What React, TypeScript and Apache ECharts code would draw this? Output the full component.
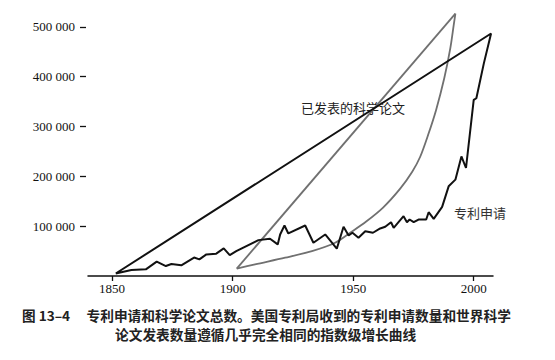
import React, { useEffect, useRef } from "react";
import * as echarts from "echarts";

// X axis tick labels (years) and Y axis tick values
const xTicks = [1850, 1900, 1950, 2000];
const yTicks = [100000, 200000, 300000, 400000, 500000];

// Patent applications (US Patent Office)
const patentYears = [
  1851.5, 1858, 1864, 1868.5, 1872.3, 1874.6, 1878.7, 1884, 1886.2, 1889.1, 1893.2, 1896.3, 1898.8, 1901.5,
  1910.7, 1915.5, 1918.7, 1919.7, 1921.5, 1923.1, 1930.1, 1933.5, 1938.4, 1943.2, 1946, 1948.1, 1949.7,
  1952.2, 1955, 1958.2, 1961.2, 1963.3, 1965.7, 1966.8, 1970.9, 1972.3, 1973.4, 1975.1, 1977.1, 1980.3,
  1981.3, 1983.4, 1986.9, 1989.6, 1992.4, 1994.9, 1996.8, 2000, 2001.1, 2004.2, 2007.2,
];
const patentValues = [
  5000, 12000, 13400, 28800, 20000, 24000, 21400, 37000, 33400, 43400, 44800, 55400, 42000, 50000,
  72000, 74800, 63400, 83400, 101400, 85400, 101400, 66800, 83400, 54800, 98800, 81400, 86800,
  76800, 90000, 86800, 95400, 98800, 108000, 96800, 120000, 108000, 113400, 108000, 113400, 113400,
  128000, 114800, 138800, 180000, 193400, 240000, 216800, 353400, 356800, 426800, 486800,
];

// Published scientific papers (world)
const paperYears = [
  1901.7, 1909.3, 1921.8, 1932.9, 1942.5, 1948.9, 1955.4, 1962.4, 1969.5, 1974.5, 1977.8, 1981.1,
  1984.4, 1987.8, 1990.3, 1991.7, 1992.4,
];
const paperValues = [
  14800, 23400, 36800, 50000, 66800, 87400, 109400, 137400, 175400, 209400, 239400, 283400,
  333400, 397400, 457400, 503400, 526800,
];

const paperLabel = "已发表的科学论文";
const patentLabel = "专利申请";
const captionNo = "图 13–4";
const captionLine1 = "专利申请和科学论文总数。美国专利局收到的专利申请数量和世界科学";
const captionLine2 = "论文发表数量遵循几乎完全相同的指数级增长曲线";

export default function App() {
  const ref = useRef<HTMLDivElement>(null);

  useEffect(() => {
    document.body.style.margin = "0";
    if (!ref.current) return;
    const chart = echarts.init(ref.current, undefined, { renderer: "svg" });

    const patentData: number[][] = patentYears.map((y, i) => [y, patentValues[i]]);
    patentData.push([patentYears[0], patentValues[0]]);
    const paperCurve: number[][] = paperYears.map((y, i) => [y, paperValues[i]]);
    const last = paperYears.length - 1;
    const paperClose: number[][] = [
      [paperYears[last], paperValues[last]],
      [paperYears[0], paperValues[0]],
    ];

    const serif = "Liberation Serif";
    const cjk = "Noto Sans CJK SC";

    chart.setOption({
      animation: false,
      backgroundColor: "#ffffff",
      textStyle: { fontFamily: serif },
      grid: { left: 88, right: 62, top: 2, bottom: 84 },
      xAxis: {
        type: "value",
        min: 1840,
        max: 2008,
        axisLine: { show: true, lineStyle: { color: "#111", width: 1.5 } },
        axisTick: { show: true, length: 5, customValues: xTicks, lineStyle: { color: "#111", width: 1.3 } },
        axisLabel: {
          customValues: xTicks,
          margin: 6,
          color: "#111",
          fontFamily: serif,
          fontSize: 13,
          formatter: (v: number) => String(v),
        },
        splitLine: { show: false },
      },
      yAxis: {
        type: "value",
        min: 0,
        max: 550000,
        offset: 2,
        axisLine: { show: false },
        axisTick: { show: true, length: 6, customValues: yTicks, lineStyle: { color: "#111", width: 1.3 } },
        axisLabel: {
          customValues: yTicks,
          margin: 11,
          color: "#111",
          fontFamily: serif,
          fontSize: 13,
          formatter: (v: number) => `${Math.round(v / 1000)} 000`,
        },
        splitLine: { show: false },
      },
      series: [
        {
          type: "line",
          data: paperCurve,
          smooth: 0.3,
          symbol: "none",
          clip: false,
          silent: true,
          lineStyle: { color: "#707070", width: 1.8 },
        },
        {
          type: "line",
          data: paperClose,
          symbol: "none",
          clip: false,
          silent: true,
          lineStyle: { color: "#707070", width: 1.8 },
        },
        {
          type: "line",
          data: patentData,
          symbol: "none",
          clip: false,
          silent: true,
          lineStyle: { color: "#111", width: 2 },
        },
      ],
      graphic: [
        {
          type: "text",
          x: 353,
          y: 107,
          style: { text: paperLabel, fill: "#222", font: `13px "${cjk}"`, align: "center", verticalAlign: "middle" },
        },
        {
          type: "text",
          x: 480,
          y: 212,
          style: { text: patentLabel, fill: "#333", font: `13px "${cjk}"`, align: "center", verticalAlign: "middle" },
        },
        {
          type: "text",
          x: 22,
          y: 314.5,
          style: { text: captionNo, fill: "#222", font: `bold 13.6px "${cjk}"`, align: "left", verticalAlign: "middle" },
        },
        {
          type: "text",
          x: 86.5,
          y: 314.5,
          style: { text: captionLine1, fill: "#222", font: `bold 13.7px "${cjk}"`, align: "left", verticalAlign: "middle" },
        },
        {
          type: "text",
          x: 115,
          y: 334,
          style: { text: captionLine2, fill: "#222", font: `bold 13.7px "${cjk}"`, align: "left", verticalAlign: "middle" },
        },
      ],
    });

    return () => chart.dispose();
  }, []);

  return <div ref={ref} style={{ width: 555, height: 360 }} />;
}
